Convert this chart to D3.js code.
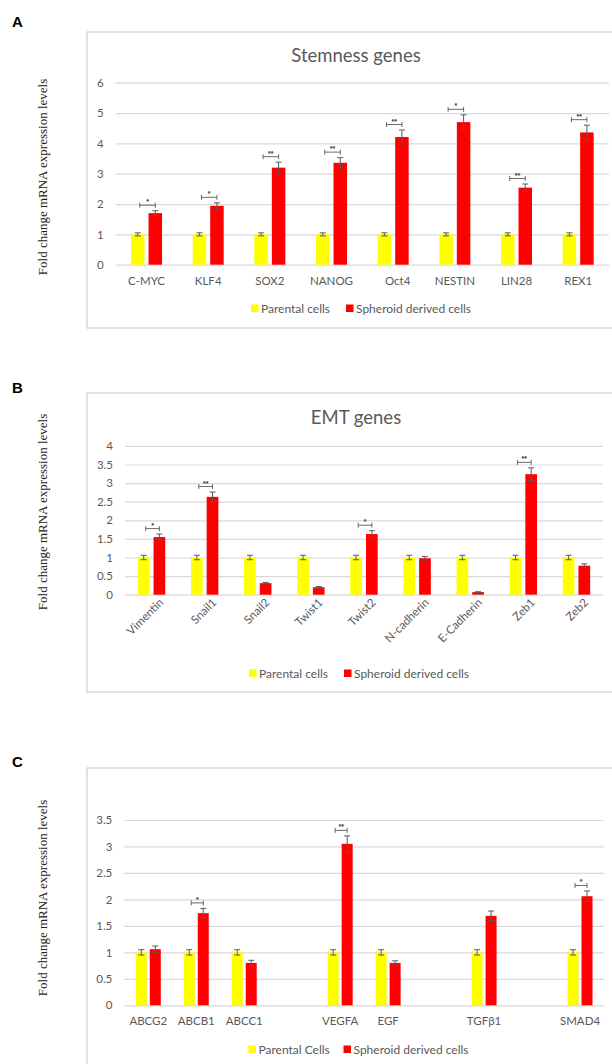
<!DOCTYPE html>
<html>
<head>
<meta charset="UTF-8">
<title>Gene expression panels</title>
<script src="https://d3js.org/d3.v7.min.js"></script>
<style>
  body { margin: 0; background: #fff; }
  svg { display: block; }
  .tick text { fill: #595959; font-family: Lato, "Open Sans", sans-serif; white-space: pre; }
</style>
</head>
<body>
<script>
// ---- data ----
var series = ["Parental cells", "Spheroid derived cells"];

var stemGenes = ["C-MYC", "KLF4", "SOX2", "NANOG", "   Oct4", "NESTIN", "LIN28", "REX1"];
var stemParental = [1, 1, 1, 1, 1, 1, 1, 1];
var stemParentalErr = [0.05, 0.05, 0.05, 0.05, 0.05, 0.05, 0.05, 0.05];
var stemSpheroid = [1.70, 1.94, 3.20, 3.36, 4.21, 4.70, 2.54, 4.36];
var stemSpheroidErr = [0.08, 0.10, 0.18, 0.17, 0.23, 0.24, 0.12, 0.24];
var stemSig = ["*", "*", "**", "**", "**", "*", "**", "**"];
var stemTicks = [0, 1, 2, 3, 4, 5, 6];

var emtGenes = ["Vimentin", "Snail1", "Snail2", "Twist1", "Twist2", "N-cadherin", "E-Cadherin", "Zeb1", "Zeb2"];
var emtParental = [1, 1, 1, 1, 1, 1, 1, 1, 1];
var emtParentalErr = [0.06, 0.06, 0.06, 0.06, 0.06, 0.06, 0.06, 0.06, 0.06];
var emtSpheroid = [1.55, 2.63, 0.31, 0.20, 1.63, 0.98, 0.07, 3.24, 0.78];
var emtSpheroidErr = [0.08, 0.13, 0.02, 0.02, 0.09, 0.05, 0.01, 0.17, 0.05];
var emtSig = ["*", "**", "", "", "*", "", "", "**", ""];
var emtTicks = [0, 0.5, 1, 1.5, 2, 2.5, 3, 3.5, 4];

var otherGenes = ["ABCG2", "ABCB1", "ABCC1", "", "VEGFA", "EGF", "", "TGF\u03b21", "", "SMAD4"];
var otherParental = [1, 1, 1, null, 1, 1, null, 1, null, 1];
var otherParentalErr = [0.05, 0.05, 0.05, null, 0.05, 0.05, null, 0.05, null, 0.05];
var otherSpheroid = [1.06, 1.74, 0.80, null, 3.05, 0.80, null, 1.69, null, 2.06];
var otherSpheroidErr = [0.06, 0.09, 0.05, null, 0.15, 0.04, null, 0.09, null, 0.10];
var otherSig = ["", "*", "", "", "**", "", "", "", "", "*"];
var otherTicks = [0, 0.5, 1, 1.5, 2, 2.5, 3, 3.5];

var colors = ["#ffff00", "#ff0000"];
var grey = "#595959";

var svg = d3.select("body").append("svg")
    .attr("width", 612).attr("height", 1064);

function panel(o) {
    var g = svg.append("g");

    // frame
    g.append("rect")
        .attr("x", 87).attr("y", o.boxTop)
        .attr("width", 560).attr("height", o.boxBottom - o.boxTop)
        .attr("fill", "none").attr("stroke", "#d9d9d9").attr("stroke-width", 1.5);

    g.append("text").text(o.letter)
        .attr("x", 12).attr("y", o.letterY)
        .attr("font-family", "Liberation Sans, Arial, sans-serif")
        .attr("font-weight", "bold").attr("font-size", 15);

    g.append("text").text("Fold change mRNA expression levels")
        .attr("transform", "translate(47," + o.ylabY + ") rotate(-90)")
        .attr("text-anchor", "middle")
        .attr("font-family", "Liberation Serif, 'Times New Roman', serif")
        .attr("font-size", 13).attr("fill", "#222");

    if (o.title) {
        g.append("text").text(o.title)
            .attr("x", 356).attr("y", o.titleY)
            .attr("text-anchor", "middle")
            .attr("font-family", "Lato, 'Open Sans', sans-serif")
            .attr("font-size", 18.5).attr("fill", grey);
    }

    var n = o.cats.length;
    var x0 = d3.scaleBand().domain(d3.range(n)).range([o.left, o.right]);
    var bw = x0.bandwidth();
    var x1 = d3.scaleBand().domain([0, 1])
        .range([bw / 2 - o.barW - o.gap / 2, bw / 2 + o.barW + o.gap / 2])
        .paddingInner(o.gap / (o.barW + o.gap));
    var y = d3.scaleLinear().domain([0, d3.max(o.ticks)]).range([o.y0, o.yTop]);

    // grid + y tick labels
    var yAxis = d3.axisLeft(y).tickValues(o.ticks)
        .tickSize(-(o.right - o.left)).tickPadding(12)
        .tickFormat(d3.format(""));
    var ga = g.append("g").attr("transform", "translate(" + o.left + ",0)").call(yAxis);
    ga.select(".domain").remove();
    ga.selectAll("line").attr("stroke", "#d9d9d9").attr("stroke-width", 1.2);
    ga.selectAll("text").attr("font-size", 11.5);

    // x labels
    var xAxis = d3.axisBottom(x0).tickSize(0).tickPadding(12)
        .tickFormat(function (i) { return o.cats[i]; });
    var gx = g.append("g").attr("transform", "translate(0," + o.y0 + ")").call(xAxis);
    gx.select(".domain").remove();
    gx.selectAll("text").attr("font-size", 11.5);
    if (o.rotate) {
        gx.selectAll("text")
            .attr("text-anchor", "end").attr("dy", null)
            .attr("transform", "translate(4,0) rotate(-45)");
    }

    var vals = [o.par, o.sph];
    var errs = [o.parErr, o.sphErr];
    var rows = [];
    d3.range(n).forEach(function (i) {
        [0, 1].forEach(function (s) {
            if (vals[s][i] != null) rows.push({ i: i, s: s, v: vals[s][i], e: errs[s][i] });
        });
    });

    g.selectAll(".bar").data(rows).enter().append("rect")
        .attr("x", function (d) { return x0(d.i) + x1(d.s); })
        .attr("y", function (d) { return y(d.v); })
        .attr("width", x1.bandwidth())
        .attr("height", function (d) { return y(0) - y(d.v); })
        .attr("fill", function (d) { return colors[d.s]; });

    // error bars
    var eb = g.selectAll(".err").data(rows).enter().append("g")
        .attr("stroke", grey).attr("stroke-width", 1);
    eb.append("line")
        .attr("x1", function (d) { return x0(d.i) + x1(d.s) + x1.bandwidth() / 2; })
        .attr("x2", function (d) { return x0(d.i) + x1(d.s) + x1.bandwidth() / 2; })
        .attr("y1", function (d) { return y(d.v - d.e); })
        .attr("y2", function (d) { return y(d.v + d.e); });
    [1, -1].forEach(function (k) {
        eb.append("line")
            .attr("x1", function (d) { return x0(d.i) + x1(d.s) + x1.bandwidth() / 2 - 3; })
            .attr("x2", function (d) { return x0(d.i) + x1(d.s) + x1.bandwidth() / 2 + 3; })
            .attr("y1", function (d) { return y(d.v + k * d.e); })
            .attr("y2", function (d) { return y(d.v + k * d.e); });
    });

    // significance brackets (yellow bar to red bar centre)
    var sig = d3.range(n).filter(function (i) { return o.sig[i]; });
    var br = g.selectAll(".sig").data(sig).enter().append("g")
        .attr("transform", function (i) {
            return "translate(" + x0(i) + "," + (y(o.sph[i] + o.sphErr[i]) - 5.5) + ")";
        });
    var xa = x1(0) + x1.bandwidth() / 2 + 2, xb = x1(1) + x1.bandwidth() / 2;
    br.append("path")
        .attr("d", "M" + xa + ",-2.5V2.5M" + xa + ",0H" + xb + "M" + xb + ",-2.5V2.5")
        .attr("fill", "none").attr("stroke", grey).attr("stroke-width", 0.9);
    br.append("text").text(function (i) { return o.sig[i]; })
        .attr("x", (xa + xb) / 2).attr("y", -1)
        .attr("text-anchor", "middle")
        .attr("font-family", "Liberation Sans, Arial, sans-serif")
        .attr("font-size", 7).attr("font-weight", "bold").attr("fill", "#333");

    // legend
    var lg = g.append("g").attr("transform", "translate(0," + o.legY + ")");
    var names = [o.parName, series[1]];
    var lx = [o.legX, o.legX + 95];
    [0, 1].forEach(function (s) {
        lg.append("rect").attr("x", lx[s]).attr("y", -4).attr("width", 7.5).attr("height", 7.5)
            .attr("fill", colors[s]);
        lg.append("text").text(names[s])
            .attr("x", lx[s] + 10).attr("y", 4)
            .attr("font-family", "Lato, 'Open Sans', sans-serif")
            .attr("font-size", 12).attr("fill", grey);
    });
}

panel({
    letter: "A", letterY: 27, boxTop: 32, boxBottom: 328, ylabY: 177,
    title: "Stemness genes", titleY: 62,
    cats: stemGenes, par: stemParental, parErr: stemParentalErr,
    sph: stemSpheroid, sphErr: stemSpheroidErr, sig: stemSig, ticks: stemTicks,
    left: 115.7, right: 609, y0: 264.7, yTop: 82.7, barW: 13.5, gap: 4,
    legY: 308.5, legX: 251, parName: series[0]
});

panel({
    letter: "B", letterY: 393, boxTop: 393, boxBottom: 692, ylabY: 512,
    title: "EMT genes", titleY: 424,
    cats: emtGenes, par: emtParental, parErr: emtParentalErr,
    sph: emtSpheroid, sphErr: emtSpheroidErr, sig: emtSig, ticks: emtTicks,
    left: 125, right: 603, y0: 594.7, yTop: 445.9, barW: 11.7, gap: 4, rotate: true,
    legY: 673.5, legX: 249, parName: series[0]
});

panel({
    letter: "C", letterY: 767, boxTop: 768, boxBottom: 1080, ylabY: 898,
    title: null,
    cats: otherGenes, par: otherParental, parErr: otherParentalErr,
    sph: otherSpheroid, sphErr: otherSpheroidErr, sig: otherSig, ticks: otherTicks,
    left: 124.3, right: 604, y0: 1005.3, yTop: 820, barW: 11, gap: 3,
    legY: 1049.5, legX: 248.5, parName: "Parental Cells"
});
</script>
</body>
</html>
